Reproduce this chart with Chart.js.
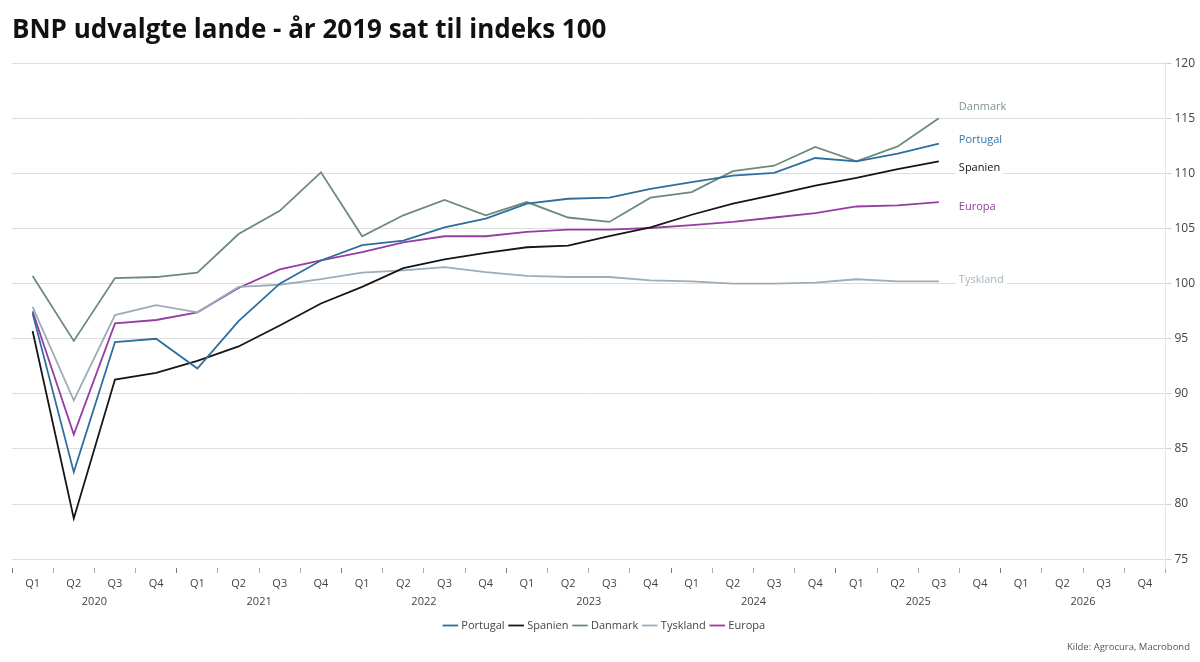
<!DOCTYPE html>
<html>
<head>
<meta charset="utf-8">
<script src="https://cdn.jsdelivr.net/npm/chart.js@4"></script>
<style>
  html, body { margin: 0; padding: 0; background: #fff; }
  #wrap { width: 1200px; height: 662px; position: relative; }
</style>
</head>
<body>
<div id="wrap"><canvas id="chart"></canvas></div>
<script>
// categories
const quarters = ['Q1', 'Q2', 'Q3', 'Q4']
const years = ['2020', '2021', '2022', '2023', '2024', '2025', '2026']
const yTicks = [75, 80, 85, 90, 95, 100, 105, 110, 115, 120]

// index, 2019 = 100 (Q1 2020 .. Q3 2025)
const portugal = [97.3, 82.9, 94.7, 95.0, 92.3, 96.6, 100.0, 102.1, 103.5, 103.9, 105.1, 105.9,
  107.25, 107.7, 107.8, 108.6, 109.2, 109.8, 110.05, 111.4, 111.1, 111.8, 112.7]
const spanien = [95.7, 78.7, 91.3, 91.9, 93.0, 94.3, 96.2, 98.2, 99.7, 101.4, 102.2, 102.8,
  103.3, 103.45, 104.3, 105.1, 106.25, 107.25, 108.05, 108.9, 109.6, 110.4, 111.1]
const danmark = [100.7, 94.8, 100.5, 100.6, 101.0, 104.5, 106.6, 110.1, 104.3, 106.2, 107.6, 106.2,
  107.4, 106.0, 105.6, 107.8, 108.3, 110.2, 110.7, 112.4, 111.1, 112.45, 115.0]
const tyskland = [97.9, 89.4, 97.15, 98.05, 97.4, 99.7, 99.9, 100.4, 101.0, 101.2, 101.5, 101.05,
  100.7, 100.6, 100.6, 100.3, 100.2, 100.0, 100.0, 100.1, 100.4, 100.2, 100.2]
const europa = [97.5, 86.3, 96.4, 96.7, 97.4, 99.6, 101.3, 102.1, 102.85, 103.75, 104.3, 104.3,
  104.7, 104.9, 104.9, 105.05, 105.3, 105.6, 106.0, 106.4, 107.0, 107.1, 107.4]

const labels = years.flatMap(() => quarters)

const FONT = "'Open Sans', 'Noto Sans', sans-serif"

// name, data, line colour, end label colour, vertical nudge of the end label (px)
const series = [
  { name: 'Portugal', data: portugal, color: '#2d6e9e', labelColor: '#3576aa', nudge: -4 },
  { name: 'Spanien', data: spanien, color: '#161616', labelColor: '#111111', nudge: 7 },
  { name: 'Danmark', data: danmark, color: '#6d8b7c', labelColor: '#7b9686', nudge: -11 },
  { name: 'Tyskland', data: tyskland, color: '#9cadb9', labelColor: '#a6b5c0', nudge: -2 },
  { name: 'Europa', data: europa, color: '#973ca3', labelColor: '#8f3d9b', nudge: 5 }
]

const endLabels = {
  id: 'endLabels',
  afterDatasetsDraw(chart) {
    const ctx = chart.ctx
    ctx.save()
    ctx.font = '11px ' + FONT
    ctx.textBaseline = 'middle'
    chart.data.datasets.forEach((ds, i) => {
      const meta = chart.getDatasetMeta(i)
      const last = meta.data[meta.data.length - 1]
      const s = series[i]
      const x = last.x + 20
      const y = last.y + s.nudge
      const w = ctx.measureText(ds.label).width
      ctx.fillStyle = '#fff'
      ctx.fillRect(x - 3, y - 7, w + 6, 14)
      ctx.fillStyle = s.labelColor
      ctx.fillText(ds.label, x, y)
    })
    ctx.restore()
  }
}

const yearLabels = {
  id: 'yearLabels',
  afterDraw(chart) {
    const ctx = chart.ctx
    const x = chart.scales.x
    ctx.save()
    ctx.font = '11px ' + FONT
    ctx.fillStyle = '#444'
    ctx.textAlign = 'center'
    ctx.textBaseline = 'middle'
    years.forEach((yr, i) => {
      const px = (x.getPixelForValue(i * 4 + 1) + x.getPixelForValue(i * 4 + 2)) / 2
      ctx.fillText(yr, px, chart.chartArea.bottom + 34)
    })
    // source
    ctx.font = '9.5px ' + FONT
    ctx.textAlign = 'right'
    ctx.fillStyle = '#555'
    ctx.fillText('Kilde: Agrocura, Macrobond', 1190, 647)
    ctx.restore()
  }
}

new Chart(document.getElementById('chart'), {
  type: 'line',
  data: {
    labels: labels,
    datasets: series.map(s => ({
      label: s.name,
      data: s.data,
      borderColor: s.color,
      backgroundColor: s.color,
      borderWidth: 1.8,
      pointRadius: 0,
      tension: 0
    }))
  },
  options: {
    responsive: true,
    maintainAspectRatio: false,
    animation: false,
    layout: { padding: { left: 12, right: 2, top: 0, bottom: 21 } },
    plugins: {
      title: {
        display: true,
        text: 'BNP udvalgte lande - år 2019 sat til indeks 100',
        align: 'start',
        color: '#111',
        font: { family: FONT, size: 26, weight: 'bold' },
        padding: { top: 15, bottom: 17 }
      },
      legend: {
        position: 'bottom',
        labels: {
          usePointStyle: true,
          pointStyle: 'line',
          boxWidth: 16,
          padding: 6,
          color: '#444',
          font: { family: FONT, size: 11 }
        }
      },
      tooltip: { enabled: false }
    },
    scales: {
      x: {
        offset: true,
        grid: {
          display: true,
          drawOnChartArea: false,
          offset: true,
          tickLength: 5,
          tickColor: c => (c.index % 4 === 0 ? '#777' : '#aaa')
        },
        border: { display: false },
        ticks: {
          autoSkip: false,
          maxRotation: 0,
          padding: 4,
          color: '#444',
          font: { family: FONT, size: 11 }
        },
        afterFit: scale => { scale.height = 46 }
      },
      y: {
        position: 'right',
        min: 74.2,
        max: 120,
        afterBuildTicks: scale => { scale.ticks = yTicks.map(v => ({ value: v })) },
        grid: { color: '#dedede', tickLength: 6, tickColor: '#cfcfcf' },
        border: { display: true, color: '#e6e6e6' },
        ticks: {
          padding: 3,
          color: '#444',
          font: { family: FONT, size: 12 }
        }
      }
    }
  },
  plugins: [endLabels, yearLabels]
})
</script>
</body>
</html>
